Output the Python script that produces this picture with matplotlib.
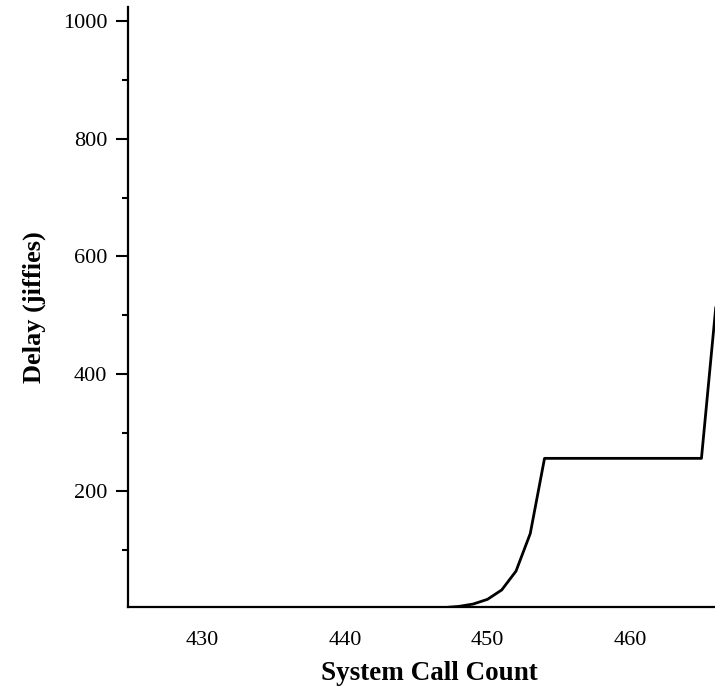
import matplotlib
matplotlib.use("Agg")
import matplotlib.pyplot as plt
from matplotlib.ticker import MultipleLocator

# exponential backoff delay per system call
calls = [447, 448, 449, 450, 451, 452, 453, 454, 455, 456, 457, 458, 459, 460,
         461, 462, 463, 464, 465, 466]
delay = [2, 4, 8, 16, 32, 64, 128, 256, 256, 256, 256, 256, 256, 256,
         256, 256, 256, 256, 256, 512]

x_ticks = [430, 440, 450, 460]
y_ticks = [200, 400, 600, 800, 1000]

plt.rcParams["font.family"] = ["Liberation Serif", "DejaVu Serif"]

fig = plt.figure(figsize=(7.15, 6.91), dpi=100)
ax = fig.add_axes([0.179, 0.1216, 0.821, 0.868])

ax.plot(calls, delay, color="black", linewidth=2.0)

ax.set_xlim(424.8, 465.95)
ax.set_ylim(3, 1024)

ax.set_xticks(x_ticks)
ax.set_yticks(y_ticks)
ax.yaxis.set_minor_locator(MultipleLocator(100))

for s in ["top", "right"]:
    ax.spines[s].set_visible(False)
for s in ["left", "bottom"]:
    ax.spines[s].set_linewidth(1.6)

ax.tick_params(axis="x", length=0, pad=17, labelsize=16)
ax.tick_params(axis="y", which="major", length=9, width=1.5, pad=6, labelsize=16)
ax.tick_params(axis="y", which="minor", length=4, width=1.5)

ax.set_xlabel("System Call Count", fontsize=19.5, fontweight="bold")
ax.xaxis.set_label_coords(0.513, -0.09)
ax.set_ylabel("Delay (jiffies)", fontsize=19, fontweight="bold", labelpad=12)

fig.savefig("out.png", dpi=100)
